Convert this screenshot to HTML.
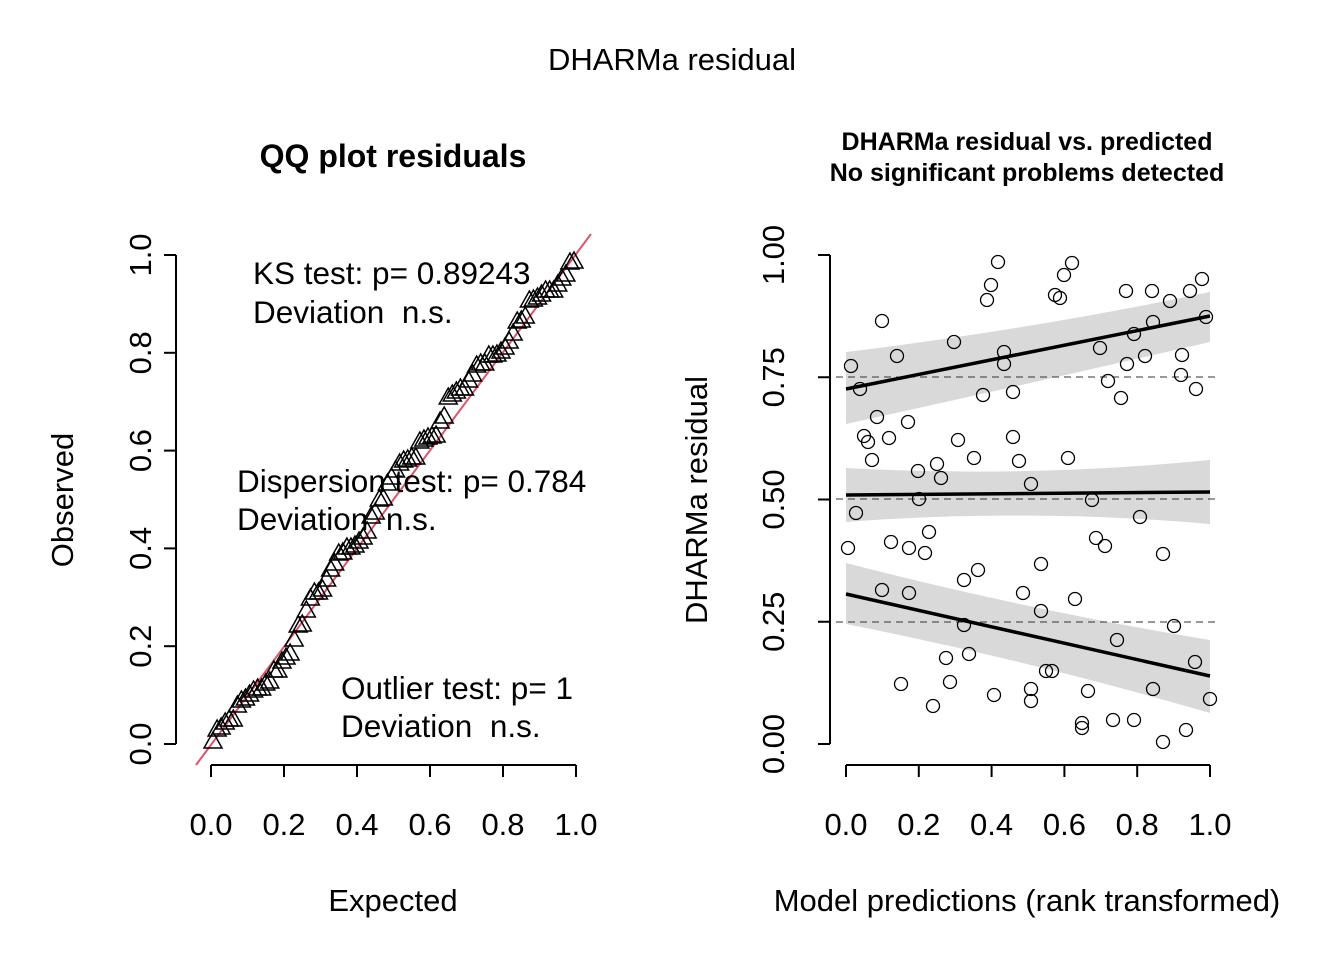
<!DOCTYPE html>
<html><head><meta charset="utf-8"><style>
html,body{margin:0;padding:0;background:#fff}
svg text{font-family:"Liberation Sans",Arial,sans-serif;fill:#000;white-space:pre}
</style></head><body>
<svg id="s" width="1344" height="960" xmlns="http://www.w3.org/2000/svg">
<text x="672" y="70" font-size="31" text-anchor="middle">DHARMa residual</text>
<text x="393" y="167" font-size="32" font-weight="bold" text-anchor="middle">QQ plot residuals</text>
<line x1="211" y1="765" x2="576" y2="765" stroke="#000" stroke-width="2"/>
<g id="lxt"></g>
<line x1="176" y1="255" x2="176" y2="744" stroke="#000" stroke-width="2"/>
<g id="lyt"></g>
<text x="393" y="911" font-size="31" text-anchor="middle">Expected</text>
<text transform="translate(73,500) rotate(-90)" font-size="31" text-anchor="middle">Observed</text>
<line x1="196" y1="765" x2="591" y2="234" stroke="#DF536B" stroke-width="2"/>
<g id="tri" fill="none" stroke="#000" stroke-width="1.5"></g>
<text x="253" y="284" font-size="31.5">KS test: p= 0.89243</text>
<text x="253" y="323" font-size="31.5">Deviation&#160;&#160;n.s.</text>
<text x="237" y="492" font-size="31.5">Dispersion test: p= 0.784</text>
<text x="237" y="530" font-size="31.5">Deviation&#160;&#160;n.s.</text>
<text x="341" y="699" font-size="31.5">Outlier test: p= 1</text>
<text x="341" y="737" font-size="31.5">Deviation&#160;&#160;n.s.</text>
<text x="1027" y="150" font-size="25" font-weight="bold" text-anchor="middle">DHARMa residual vs. predicted</text>
<text x="1027" y="181" font-size="25" font-weight="bold" text-anchor="middle">No significant problems detected</text>
<line x1="846" y1="765" x2="1210" y2="765" stroke="#000" stroke-width="2"/>
<g id="rxt"></g>
<line x1="830" y1="255" x2="830" y2="744" stroke="#000" stroke-width="2"/>
<g id="ryt"></g>
<text x="1027" y="911" font-size="31" text-anchor="middle">Model predictions (rank transformed)</text>
<text transform="translate(707,500) rotate(-90)" font-size="31" text-anchor="middle">DHARMa residual</text>
<path d="M846,352 Q1028,330 1210,292 L1210,342 Q1028,384 846,424 Z" fill="#d9d9d9"/>
<path d="M846,468 Q1028,478 1210,460 L1210,524 Q1028,508 846,522 Z" fill="#d9d9d9"/>
<path d="M846,563 Q1028,610 1210,640 L1210,713 Q1028,660 846,624 Z" fill="#d9d9d9"/>
<g stroke="#333" stroke-width="1" stroke-dasharray="7,5">
<line x1="836" y1="377" x2="1220" y2="377"/><line x1="836" y1="499" x2="1220" y2="499"/><line x1="836" y1="622" x2="1220" y2="622"/></g>
<g id="circ" fill="none" stroke="#000" stroke-width="1.3"></g>
<g stroke="#000" stroke-width="3.5">
<line x1="846" y1="389" x2="1210" y2="316"/><line x1="846" y1="495" x2="1210" y2="492"/><line x1="846" y1="594" x2="1210" y2="676"/></g>
</svg>
<script>
var NS="http://www.w3.org/2000/svg";
function el(p,t,a,txt){var e=document.createElementNS(NS,t);for(var k in a)e.setAttribute(k,a[k]);if(txt!==undefined)e.textContent=txt;document.getElementById(p).appendChild(e);}
var lab=["0.0","0.2","0.4","0.6","0.8","1.0"];
for(var i=0;i<6;i++){var x=211+i*73;el("lxt","line",{x1:x,y1:765,x2:x,y2:777,stroke:"#000","stroke-width":2});el("lxt","text",{x:x,y:835,"font-size":31,"text-anchor":"middle"},lab[i]);
var y=744-i*97.8;el("lyt","line",{x1:164,y1:y,x2:176,y2:y,stroke:"#000","stroke-width":2});el("lyt","text",{transform:"translate(151,"+y+") rotate(-90)","font-size":31,"text-anchor":"middle"},lab[i]);
var x2=846+i*72.8;el("rxt","line",{x1:x2,y1:765,x2:x2,y2:777,stroke:"#000","stroke-width":2});el("rxt","text",{x:x2,y:835,"font-size":31,"text-anchor":"middle"},lab[i]);}
var rl=["0.00","0.25","0.50","0.75","1.00"];
for(var i=0;i<5;i++){var y=744-i*122.25;el("ryt","line",{x1:818,y1:y,x2:830,y2:y,stroke:"#000","stroke-width":2});el("ryt","text",{transform:"translate(784,"+y+") rotate(-90)","font-size":31,"text-anchor":"middle"},rl[i]);}
var P=[[851,366],[860,389],[856,513],[848,548],[864,436],[868,442],[872,460],[877,417],[882,321],[882,590],[889,438],[891,542],[897,356],[901,684],[908,422],[909,548],[909,593],[918,471],[919,499],[925,553],[929,532],[933,706],[937,464],[941,478],[946,658],[950,682],[954,342],[958,440],[964,580],[964,625],[969,654],[974,458],[978,570],[983,395],[987,300],[991,285],[994,695],[998,262],[1004,352],[1004,364],[1013,392],[1013,437],[1019,461],[1023,593],[1031,484],[1031,689],[1031,701],[1041,564],[1041,611],[1046,671],[1052,671],[1055,295],[1060,298],[1064,275],[1068,458],[1072,263],[1075,599],[1082,723],[1082,728],[1088,691],[1092,500],[1096,538],[1100,348],[1105,546],[1108,381],[1113,720],[1117,640],[1121,398],[1126,291],[1127,364],[1134,720],[1134,334],[1140,517],[1145,356],[1152,291],[1153,322],[1153,689],[1163,742],[1163,554],[1170,301],[1174,626],[1181,375],[1182,355],[1186,730],[1190,291],[1195,662],[1196,389],[1202,279],[1206,317],[1210,699]];
P.forEach(function(p){el("circ","circle",{cx:p[0],cy:p[1],r:6.5});});
var ys=P.map(function(p){return (744-p[1])/489;}).sort(function(a,b){return a-b;});
var n=ys.length;
ys.forEach(function(v,i){var x=211+365*(i+0.5)/n,y=744-489*v;el("tri","path",{d:"M"+x+","+(y-10)+" L"+(x+9)+","+(y+6)+" L"+(x-9)+","+(y+6)+" Z"});});
</script>
</body></html>
